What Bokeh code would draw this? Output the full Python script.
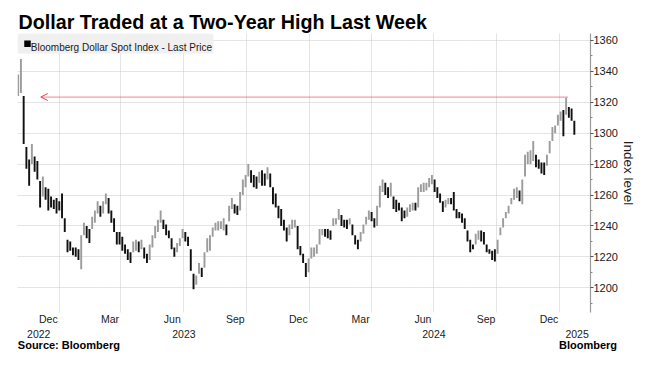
import pandas as pd
from bokeh.plotting import figure
from bokeh.models import (Range1d, LinearAxis, FixedTicker, Label, Arrow, OpenHead,
                          ColumnDataSource, Grid)
from bokeh.embed import file_html
from bokeh.resources import INLINE

# ---------------- data ----------------
title_text = "Dollar Traded at a Two-Year High Last Week"
series_name = "Bloomberg Dollar Spot Index - Last Price"
source_text = "Source: Bloomberg"
brand_text = "Bloomberg"
y_title = "Index level"

start_date = "2022-11-02"   # first bar, one bar every 4 calendar days
step_days = 4

highs = [1338, 1348, 1324, 1291, 1283, 1293, 1285, 1282, 1269, 1272,
         1265, 1264, 1259, 1257, 1258, 1256, 1261, 1245, 1231, 1230,
         1226, 1226, 1225, 1234, 1242, 1240, 1238, 1246, 1250, 1256,
         1253, 1256, 1261, 1258, 1250, 1245, 1236, 1236, 1233, 1228,
         1225, 1223, 1230, 1231, 1230, 1231, 1226, 1222, 1228, 1234,
         1240, 1244, 1250, 1244, 1241, 1237, 1232, 1226, 1229, 1232,
         1238, 1236, 1233, 1225, 1209, 1208, 1216, 1213, 1223, 1232,
         1234, 1239, 1242, 1243, 1243, 1245, 1241, 1253, 1258, 1254,
         1253, 1262, 1270, 1273, 1280, 1276, 1273, 1272, 1275, 1276,
         1274, 1278, 1274, 1265, 1261, 1253, 1251, 1244, 1239, 1241,
         1244, 1244, 1240, 1227, 1222, 1216, 1219, 1226, 1226, 1228,
         1238, 1238, 1238, 1238, 1237, 1245, 1245, 1251, 1247, 1244,
         1244, 1245, 1241, 1234, 1231, 1236, 1241, 1246, 1250, 1249,
         1245, 1253, 1266, 1270, 1268, 1265, 1268, 1259, 1257, 1255,
         1252, 1250, 1252, 1254, 1255, 1255, 1265, 1267, 1268, 1268,
         1271, 1273, 1270, 1265, 1261, 1256, 1257, 1258, 1258, 1262,
         1251, 1249, 1248, 1245, 1237, 1231, 1228, 1235, 1237, 1237,
         1236, 1228, 1225, 1224, 1225, 1231, 1239, 1245, 1249, 1253,
         1258, 1264, 1265, 1263, 1270, 1286, 1288, 1289, 1295, 1286,
         1283, 1281, 1281, 1286, 1295, 1304, 1305, 1312, 1314, 1315,
         1323, 1317, 1316, 1308]

lows = [1324, 1326, 1293, 1277, 1266, 1280, 1275, 1270, 1252, 1259,
        1257, 1250, 1252, 1251, 1248, 1250, 1245, 1236, 1223, 1224,
        1221, 1220, 1218, 1212, 1234, 1232, 1229, 1238, 1242, 1248,
        1246, 1248, 1254, 1248, 1242, 1236, 1228, 1228, 1224, 1222,
        1218, 1216, 1223, 1224, 1223, 1225, 1219, 1216, 1218, 1226,
        1232, 1236, 1242, 1238, 1234, 1232, 1225, 1220, 1223, 1227,
        1232, 1230, 1227, 1211, 1199, 1202, 1209, 1207, 1213, 1223,
        1224, 1233, 1237, 1237, 1238, 1237, 1234, 1243, 1251, 1248,
        1247, 1250, 1260, 1265, 1272, 1268, 1265, 1264, 1268, 1266,
        1266, 1270, 1265, 1254, 1252, 1245, 1240, 1237, 1230, 1234,
        1238, 1239, 1225, 1221, 1216, 1207, 1210, 1219, 1220, 1222,
        1228, 1234, 1233, 1232, 1231, 1240, 1241, 1244, 1240, 1239,
        1238, 1241, 1234, 1228, 1225, 1230, 1235, 1241, 1244, 1243,
        1239, 1240, 1252, 1262, 1260, 1258, 1259, 1251, 1249, 1250,
        1243, 1245, 1246, 1249, 1250, 1250, 1252, 1262, 1262, 1263,
        1265, 1267, 1262, 1258, 1255, 1249, 1252, 1254, 1254, 1250,
        1245, 1245, 1242, 1238, 1230, 1223, 1225, 1228, 1231, 1230,
        1228, 1223, 1222, 1218, 1217, 1222, 1234, 1239, 1245, 1248,
        1254, 1257, 1258, 1256, 1254, 1272, 1280, 1280, 1282, 1278,
        1277, 1274, 1273, 1279, 1287, 1295, 1300, 1305, 1308, 1298,
        1312, 1310, 1308, 1299]

level_value = 1323.4
level_from_date = "2025-01-12"
level_to_date = "2022-12-05"

y_ticks = [1200, 1220, 1240, 1260, 1280, 1300, 1320, 1340, 1360]

month_labels = ["Dec", "Mar", "Jun", "Sep", "Dec", "Mar", "Jun", "Sep", "Dec"]
month_dates = ["2022-12-16", "2023-03-16", "2023-06-15", "2023-09-15", "2023-12-16",
               "2024-03-16", "2024-06-15", "2024-09-15", "2024-12-16"]
year_labels = ["2022", "2023", "2024", "2025"]
year_dates = ["2022-12-02", "2023-07-02", "2024-07-01", "2025-01-26"]
grid_dates = ["2023-01-01", "2023-04-01", "2023-07-01", "2023-10-01", "2024-01-01",
              "2024-04-01", "2024-07-01", "2024-10-01", "2025-01-01"]
credit_labels = [source_text, brand_text]
credit_dates = ["2023-01-15", "2025-02-11"]

x_start_date = "2022-11-01"
x_end_date = "2025-02-14"

# ---------------- helpers ----------------
base = pd.Timestamp("2023-01-01")


def day(d):
    return int((pd.Timestamp(d) - base).days)


dates = pd.date_range(start_date, periods=len(highs), freq=f"{step_days}D")
xs = [int((d - base).days) for d in dates]
mids = [(h + l) / 2 for h, l in zip(highs, lows)]
GRAY = "#9c9c9c"
BLACK = "#111111"
colors = [GRAY] + [GRAY if mids[i] > mids[i - 1] else BLACK for i in range(1, len(mids))]

src = ColumnDataSource(dict(x=xs, high=highs, low=lows, color=colors))

FONT = "Liberation Sans"
RED = "#e2404f"
GRID = "#c9c9c9"

p = figure(width=646, height=357,
           x_range=Range1d(day(x_start_date), day(x_end_date) + 0.6),
           y_range=Range1d(1184, 1364.5),
           output_backend="svg", toolbar_location=None,
           x_axis_location=None, y_axis_location="right",
           min_border_left=17, min_border_right=56, min_border_top=33, min_border_bottom=45,
           background_fill_color="white", border_fill_color="white")
p.outline_line_color = None
p.grid.visible = False

# title (panel above the frame)
p.title.text = title_text
p.title.align = "left"
p.title.offset = 1
p.title.standoff = 2
p.title.text_font = FONT
p.title.text_font_size = "19.7px"
p.title.text_font_style = "bold"
p.title.text_color = "black"

# grids
xg = Grid(dimension=0, ticker=FixedTicker(ticks=[day(d) for d in grid_dates]),
          grid_line_color=GRID, grid_line_dash="1 1", grid_line_width=1)
yg = Grid(dimension=1, ticker=FixedTicker(ticks=y_ticks),
          grid_line_color=GRID, grid_line_dash="1 1", grid_line_width=1)
p.add_layout(xg, "center")
p.add_layout(yg, "center")

# legend box
p.quad(left=day(x_start_date), right=225, top=1364.5, bottom=1351.6,
       fill_color="#f0f0f0", line_color=None)
p.scatter(x=[-46.4], y=[1357.9], marker="square", size=6.5,
          fill_color="black", line_color=None)

# bars
p.vbar(x="x", width=2.8, top="high", bottom="low", fill_color="color",
       line_color=None, source=src)

# arrow
p.add_layout(Arrow(end=OpenHead(size=7, line_color=RED, line_width=1),
                   x_start=day(level_from_date), y_start=level_value,
                   x_end=day(level_to_date), y_end=level_value,
                   line_color=RED, line_dash="1 1", line_width=1.3))

# y axis (right)
ya = p.yaxis[0]
minor = [t - 10 for t in y_ticks] + [y_ticks[-1] + 10]
ya.ticker = FixedTicker(ticks=y_ticks, minor_ticks=minor)
ya.axis_line_color = "#9a9a9a"
ya.axis_line_width = 1.2
ya.major_tick_line_color = "#555555"
ya.major_tick_out = 3
ya.major_tick_in = 0
ya.minor_tick_line_color = "#888888"
ya.minor_tick_out = 2
ya.minor_tick_in = 0
ya.major_label_standoff = 0
ya.major_label_text_font = FONT
ya.major_label_text_font_size = "11px"
ya.major_label_text_color = "#1a1a1a"
ya.axis_label = y_title
ya.axis_label_text_font = FONT
ya.axis_label_text_font_size = "13.5px"
ya.axis_label_text_font_style = "normal"
ya.axis_label_text_color = "#1a1a1a"
ya.axis_label_standoff = 0


def label_axis(ticks, labels, standoff, size, style="normal", color="#222222"):
    return LinearAxis(ticker=FixedTicker(ticks=ticks),
                      major_label_overrides=dict(zip(ticks, labels)),
                      axis_line_color=None, major_tick_line_color=None,
                      minor_tick_line_color=None,
                      major_tick_out=0, major_tick_in=0, minor_tick_out=0, minor_tick_in=0,
                      major_label_standoff=standoff, major_label_text_font=FONT,
                      major_label_text_font_size=size, major_label_text_font_style=style,
                      major_label_text_color=color)


mdays = [day(d) for d in month_dates]
ydays = [day(d) for d in year_dates]
cdays = [day(d) for d in credit_dates]
p.add_layout(label_axis(mdays, month_labels, 0, "10.5px"), "below")
p.add_layout(label_axis(ydays, year_labels, 2, "10.5px"), "below")
p.add_layout(label_axis(cdays, credit_labels, -2, "11px", "bold", "black"), "below")

# legend text (inside the frame)
p.add_layout(Label(x=13.3, y=264.7, x_units="screen", y_units="screen", text=series_name,
                   text_font=FONT, text_font_size="10px", text_color="#1a1a1a",
                   text_baseline="alphabetic"))

open("out.html", "w").write(file_html(p, INLINE))
